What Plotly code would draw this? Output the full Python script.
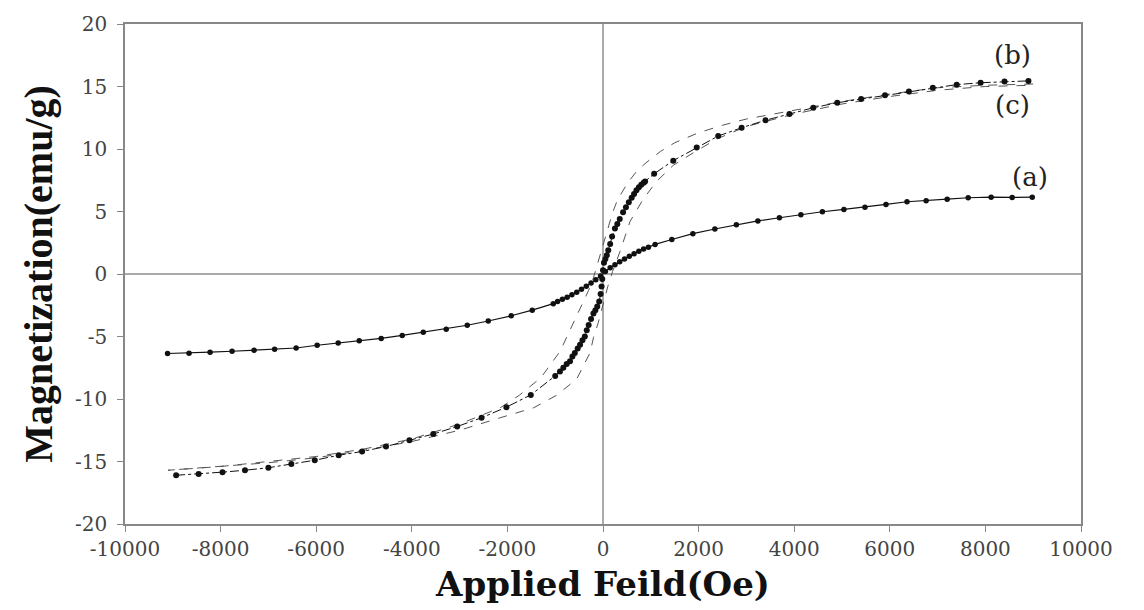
import plotly.graph_objects as go

# ---- data ----
field_a = [-9110, -8660, -8220, -7760, -7300, -6870, -6420, -5980, -5540, -5100,
           -4640, -4200, -3760, -3280, -2840, -2400, -1920, -1480, -1040,
           -950, -850, -750, -650, -550, -450, -350, -250, -150, -50,
           50, 150, 250, 350, 450, 550, 650, 750, 850, 950,
           1090, 1440, 1880, 2340, 2790, 3240, 3690, 4140, 4590, 5040,
           5480, 5920, 6360, 6760, 7200, 7640, 8120, 8560, 8980]
mag_a = [-6.36, -6.33, -6.25, -6.18, -6.10, -6.02, -5.92, -5.70, -5.52, -5.34,
         -5.15, -4.91, -4.65, -4.42, -4.10, -3.76, -3.34, -2.89, -2.37,
         -2.20, -2.02, -1.85, -1.66, -1.45, -1.22, -0.98, -0.72, -0.45, -0.15,
         0.20, 0.50, 0.75, 0.98, 1.20, 1.42, 1.62, 1.82, 2.00, 2.15,
         2.37, 2.76, 3.23, 3.60, 3.95, 4.25, 4.50, 4.75, 4.98, 5.17,
         5.34, 5.57, 5.78, 5.86, 5.99, 6.10, 6.15, 6.13, 6.15]

field_b = [-8930, -8460, -7960, -7490, -7000, -6520, -6030, -5530, -5040, -4540,
           -4050, -3550, -3050, -2540, -2020, -1510,
           -1000, -900, -830, -760, -690, -640, -590, -530, -480, -430,
           -380, -340, -300, -250, -200, -160, -120, -80, -50, -30, -15,
           0, 20, 50, 80, 110, 150, 190, 250, 300, 350, 420, 480, 540,
           600, 650, 700, 750, 800, 850, 880,
           1070, 1470, 1960, 2410, 2900, 3400, 3900, 4400, 4900, 5400,
           5900, 6400, 6900, 7400, 7900, 8400, 8900]
mag_b = [-16.10, -16.00, -15.85, -15.70, -15.50, -15.20, -14.90, -14.50, -14.20, -13.80,
         -13.30, -12.80, -12.20, -11.50, -10.65, -9.67,
         -8.15, -7.80, -7.49, -7.20, -6.97, -6.60, -6.31, -5.95, -5.65, -5.30,
         -4.99, -4.50, -4.07, -3.60, -3.15, -2.90, -2.60, -2.20, -1.60, -1.00, -0.40,
         0.30, 0.90, 1.20, 1.50, 1.90, 2.40, 3.00, 3.65, 4.00, 4.40, 4.95, 5.35, 5.75,
         6.10, 6.40, 6.70, 6.95, 7.15, 7.30, 7.40,
         8.02, 9.07, 10.12, 11.04, 11.70, 12.30, 12.80, 13.30, 13.70, 14.00,
         14.30, 14.60, 14.90, 15.15, 15.30, 15.40, 15.45]

# loop (c): descending branch then ascending branch
field_c = [9000, 8000, 7000, 6000, 5000, 4000, 3000, 2500, 2000, 1500, 1200, 900,
           700, 500, 400, 300, 200, 100, 0, -100, -200, -300, -400, -600, -900,
           -1300, -1750, -2150, -3000, -4000, -5000, -6000, -7000, -8000, -9100,
           -8000, -7000, -6000, -5000, -4000, -3000, -2150, -1450, -970, -550,
           -270, -200, -100, 0, 100, 200, 356, 565, 843, 1120, 1470, 1890, 2380,
           3000, 4000, 5000, 6000, 7000, 8000, 9000]
mag_c = [15.2, 15.1, 14.9, 14.4, 13.8, 13.1, 12.4, 11.9, 11.3, 10.5, 9.8, 8.9,
         8.2, 7.2, 6.6, 5.9, 4.9, 3.6, 2.3, 1.0, -0.3, -1.3, -2.1, -3.7, -6.2,
         -8.3, -9.7, -10.7, -12.0, -13.2, -14.0, -14.6, -15.0, -15.4, -15.7,
         -15.4, -15.1, -14.7, -14.1, -13.4, -12.5, -11.5, -10.7, -9.7, -8.4,
         -6.3, -5.1, -3.9, -2.4, -1.0, 0.2, 1.8, 4.2, 6.0, 7.4, 8.7, 9.7, 10.8,
         11.8, 12.8, 13.6, 14.2, 14.7, 15.0, 15.1]

x_tickvals = [-10000, -8000, -6000, -4000, -2000, 0, 2000, 4000, 6000, 8000, 10000]
x_ticktext = ["-10000", "-8000", "-6000", "-4000", "-2000", "0", "2000", "4000", "6000", "8000", "10000"]
y_tickvals = [-20, -15, -10, -5, 0, 5, 10, 15, 20]
y_ticktext = ["-20", "-15", "-10", "-5", "0", "5", "10", "15", "20"]

labels = ["(b)", "(c)", "(a)"]
label_x = [8560, 8560, 8930]
label_y = [17.5, 13.55, 7.75]

fig = go.Figure()
fig.add_trace(go.Scatter(x=field_c, y=mag_c, mode="lines",
                         line=dict(color="#555555", width=1, dash="dash"),
                         showlegend=False))
fig.add_trace(go.Scatter(x=field_a, y=mag_a, mode="lines+markers",
                         line=dict(color="#111111", width=1.2),
                         marker=dict(color="#111111", size=5.5),
                         showlegend=False))
fig.add_trace(go.Scatter(x=field_b, y=mag_b, mode="lines+markers",
                         line=dict(color="#111111", width=1, dash="dashdot"),
                         marker=dict(color="#111111", size=6),
                         showlegend=False))

for t, lx, ly in zip(labels, label_x, label_y):
    fig.add_annotation(x=lx, y=ly, text=t, showarrow=False,
                       font=dict(family="DejaVu Serif", size=26, color="#222222"))

serif = "DejaVu Serif"
fig.update_layout(
    width=1144, height=610,
    margin=dict(l=125, r=63, t=17, b=86),
    paper_bgcolor="white", plot_bgcolor="white",
    font=dict(family=serif, color="#333333"),
)
fig.update_xaxes(
    range=[-10000, 10000], tickvals=x_tickvals, ticktext=x_ticktext,
    showgrid=False, zeroline=True, zerolinecolor="#aaaaaa", zerolinewidth=2,
    showline=True, linecolor="#888888", linewidth=1.5, mirror=True,
    ticks="outside", ticklen=6, tickcolor="#888888",
    tickfont=dict(family=serif, size=20, color="#444444"),
    title=dict(text="<b>Applied Feild(Oe)</b>", standoff=12,
               font=dict(family=serif, size=34, color="#111111")),
)
fig.update_yaxes(
    range=[-20, 20], tickvals=y_tickvals, ticktext=y_ticktext,
    showgrid=False, zeroline=True, zerolinecolor="#aaaaaa", zerolinewidth=2,
    showline=True, linecolor="#888888", linewidth=1.5, mirror=True,
    ticks="outside", ticklen=6, tickcolor="#888888", ticklabelstandoff=6,
    tickfont=dict(family=serif, size=20, color="#444444"),
    title=dict(text="<b>Magnetization(emu/g)</b>", standoff=10,
               font=dict(family="Liberation Serif", size=40, color="#111111")),
)

fig.write_html("out.html")
